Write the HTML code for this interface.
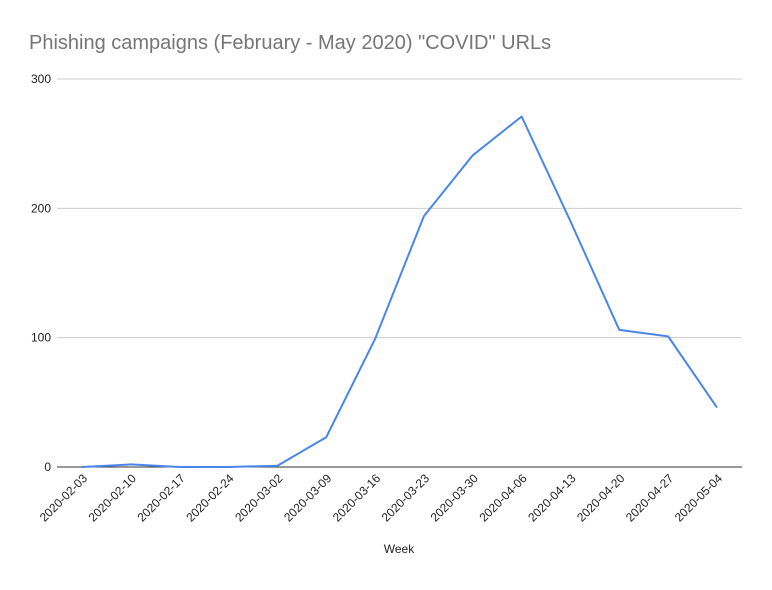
<!DOCTYPE html>
<html><head><meta charset="utf-8"><style>
body{margin:0;background:#fff;font-family:"Liberation Sans",Arial,sans-serif}
</style></head><body>
<svg width="772" height="585" xmlns="http://www.w3.org/2000/svg">
<text x="29" y="49" font-size="20" fill="#757575">Phishing campaigns (February - May 2020) "COVID" URLs</text>
<g id="grid"></g>
<g id="xlabels"></g>
<path id="line" fill="none" stroke="#4a86e8" stroke-width="2" stroke-linejoin="round"/>
<text x="399" y="553" font-size="12" text-anchor="middle" fill="#222">Week</text>
<script>
const categories=["2020-02-03","2020-02-10","2020-02-17","2020-02-24","2020-03-02","2020-03-09","2020-03-16","2020-03-23","2020-03-30","2020-04-06","2020-04-13","2020-04-20","2020-04-27","2020-05-04"];
const values=[0,2,0,0,1,23,99,194,241,271,190,106,101,46];
const yTicks=[0,100,200,300];
const NS="http://www.w3.org/2000/svg";
const x0=82,x1=717,yBase=467,yTop=79,yMax=300,left=57,right=742;
const xs=i=>x0+i*(x1-x0)/(categories.length-1);
const ys=v=>yBase-v*(yBase-yTop)/yMax;
const grid=document.getElementById('grid');
yTicks.forEach(t=>{
  const l=document.createElementNS(NS,'line');
  l.setAttribute('x1',left);l.setAttribute('x2',right);
  l.setAttribute('y1',ys(t));l.setAttribute('y2',ys(t));
  l.setAttribute('stroke',t===0?'#333':'#ccc');l.setAttribute('stroke-width','1');
  
  
  grid.appendChild(l);
  const tx=document.createElementNS(NS,'text');
  tx.setAttribute('x',left-6);tx.setAttribute('y',ys(t)+4);
  tx.setAttribute('text-anchor','end');tx.setAttribute('font-size','12');tx.setAttribute('fill','#222');
  tx.textContent=t;
  
  
  grid.appendChild(tx);
});
const xl=document.getElementById('xlabels');
categories.forEach((c,i)=>{
  const tx=document.createElementNS(NS,'text');
  const x=xs(i)+6,y=yBase+12;
  tx.setAttribute('x',x);tx.setAttribute('y',y);
  tx.setAttribute('text-anchor','end');tx.setAttribute('font-size','12');tx.setAttribute('fill','#222');
  tx.setAttribute('transform',`rotate(-45 ${x} ${y})`);
  tx.textContent=c;
  
  
  xl.appendChild(tx);
});
document.getElementById('line').setAttribute('d',values.map((v,i)=>(i?'L':'M')+xs(i)+' '+ys(v)).join(' '));
</script>
</svg>
</body></html>
